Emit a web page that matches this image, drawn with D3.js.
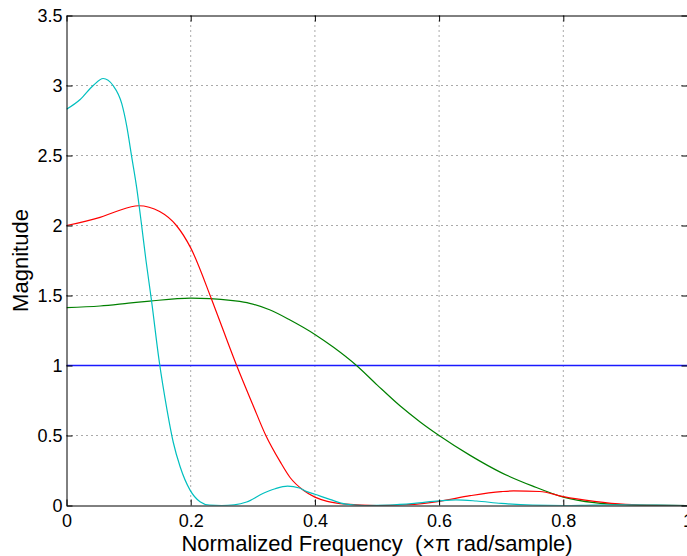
<!DOCTYPE html>
<html>
<head>
<meta charset="utf-8">
<script src="https://cdn.jsdelivr.net/npm/d3@7"></script>
<style>
  html, body { margin: 0; padding: 0; background: #fff; }
  svg { display: block; font-family: "Liberation Sans", Arial, sans-serif; }
</style>
</head>
<body>
<div id="chart"></div>
<script>
// Tick values on both axes
const xTicks = [0, 0.2, 0.4, 0.6, 0.8, 1];
const yTicks = [0, 0.5, 1, 1.5, 2, 2.5, 3, 3.5];

// Magnitude responses: [normalized frequency, magnitude]
const blueSeries = [[0, 1], [1, 1]];

const greenSeries = [
  [0, 1.414], [0.054, 1.425], [0.1, 1.445], [0.134, 1.46], [0.2, 1.481],
  [0.231, 1.478], [0.268, 1.463], [0.295, 1.444], [0.327, 1.398], [0.36, 1.325],
  [0.4, 1.222], [0.43, 1.13], [0.467, 1.0], [0.5, 0.862], [0.537, 0.712],
  [0.57, 0.595], [0.6, 0.5], [0.65, 0.358], [0.7, 0.235], [0.75, 0.14],
  [0.8, 0.06], [0.85, 0.02], [0.9, 0.005], [0.95, 0.001], [1, 0]
];

const redSeries = [
  [0, 2.0], [0.054, 2.058], [0.08, 2.1], [0.116, 2.141], [0.15, 2.1],
  [0.177, 2.0], [0.2, 1.84], [0.233, 1.48], [0.25, 1.28], [0.274, 1.0],
  [0.3, 0.72], [0.321, 0.5], [0.344, 0.313], [0.36, 0.2], [0.382, 0.107],
  [0.4, 0.06], [0.42, 0.03], [0.45, 0.01], [0.5, 0], [0.55, 0.006],
  [0.6, 0.03], [0.65, 0.07], [0.7, 0.099], [0.72, 0.104], [0.762, 0.1],
  [0.8, 0.063], [0.85, 0.03], [0.9, 0.008], [0.95, 0.001], [1, 0]
];

const cyanSeries = [
  [0, 2.83], [0.022, 2.9], [0.043, 3.0], [0.059, 3.05], [0.075, 3.0],
  [0.089, 2.87], [0.097, 2.71], [0.105, 2.49], [0.113, 2.27], [0.121, 2.0],
  [0.128, 1.75], [0.137, 1.46], [0.149, 1.04], [0.162, 0.68], [0.172, 0.45],
  [0.183, 0.277], [0.199, 0.11], [0.215, 0.027], [0.23, 0.003], [0.25, 0],
  [0.27, 0.005], [0.29, 0.025], [0.317, 0.087], [0.336, 0.12], [0.356, 0.139],
  [0.375, 0.125], [0.387, 0.099], [0.4, 0.08], [0.424, 0.044], [0.45, 0.01],
  [0.48, 0], [0.52, 0.003], [0.56, 0.015], [0.6, 0.033], [0.627, 0.04],
  [0.66, 0.032], [0.7, 0.015], [0.75, 0.003], [0.8, 0], [0.85, 0.003],
  [0.9, 0.004], [0.95, 0.002], [1, 0]
];

const series = [
  { data: blueSeries, color: "#1a1aff" },
  { data: greenSeries, color: "#008000" },
  { data: redSeries, color: "#ff0000" },
  { data: cyanSeries, color: "#00bfbf" }
];

// Dimensions and margins
const W = 687, H = 556;
const margin = { top: 15.5, right: -0.5, bottom: 50.5, left: 66.5 };
const width = W - margin.left - margin.right;
const height = H - margin.top - margin.bottom;

const svg = d3.select("#chart")
  .append("svg")
  .attr("width", W)
  .attr("height", H);

const g = svg.append("g")
  .attr("transform", `translate(${margin.left},${margin.top})`);

// Scales
const x = d3.scaleLinear().domain([0, 1]).range([0, width]);
const y = d3.scaleLinear().domain([0, 3.5]).range([height, 0]);

// Dotted grid
g.append("g")
  .selectAll("line")
  .data(xTicks.filter((d) => d > 0 && d < 1))
  .join("line")
  .attr("x1", (d) => x(d)).attr("x2", (d) => x(d))
  .attr("y1", 0).attr("y2", height)
  .attr("stroke", "#555")
  .attr("stroke-width", 1)
  .attr("stroke-dasharray", "1,4");

g.append("g")
  .selectAll("line")
  .data(yTicks.filter((d) => d > 0 && d < 3.5))
  .join("line")
  .attr("x1", 0).attr("x2", width)
  .attr("y1", (d) => y(d)).attr("y2", (d) => y(d))
  .attr("stroke", "#555")
  .attr("stroke-width", 1)
  .attr("stroke-dasharray", "1,4");

// Curves, clipped to the plot area
g.append("clipPath").attr("id", "plotclip")
  .append("rect").attr("x", 0).attr("y", 0).attr("width", width).attr("height", height);

const line = d3.line()
  .x((d) => x(d[0]))
  .y((d) => y(d[1]))
  .curve(d3.curveMonotoneX);

g.append("g")
  .attr("clip-path", "url(#plotclip)")
  .selectAll("path")
  .data(series)
  .join("path")
  .attr("d", (d) => line(d.data))
  .attr("fill", "none")
  .attr("stroke", (d) => d.color)
  .attr("stroke-width", (d, i) => (i === 0 ? 1.6 : 1.2));

// Axes with inward ticks on all four sides
const fmt = (d) => String(d);

g.append("g")
  .attr("transform", `translate(0,${height})`)
  .call(d3.axisBottom(x).tickValues(xTicks).tickSizeInner(-6).tickSizeOuter(0).tickPadding(9).tickFormat(fmt))
  .call((a) => a.selectAll("text").attr("font-size", 18).attr("fill", "#000"));

g.append("g")
  .call(d3.axisLeft(y).tickValues(yTicks).tickSizeInner(-6).tickSizeOuter(0).tickPadding(4).tickFormat(fmt))
  .call((a) => a.selectAll("text").attr("font-size", 18).attr("fill", "#000"));

g.append("g")
  .call(d3.axisTop(x).tickValues(xTicks).tickSizeInner(-6).tickSizeOuter(0).tickFormat(""));

g.append("g")
  .attr("transform", `translate(${width},0)`)
  .call(d3.axisRight(y).tickValues(yTicks).tickSizeInner(-6).tickSizeOuter(0).tickFormat(""));

g.selectAll(".domain").attr("stroke", "#000");
g.selectAll(".tick line").attr("stroke", "#000");

// Axis labels
svg.append("text")
  .attr("x", margin.left + width / 2)
  .attr("y", 551)
  .attr("text-anchor", "middle")
  .attr("font-size", 22)
  .style("white-space", "pre")
  .text("Normalized Frequency  (\u00d7\u03c0 rad/sample)");

svg.append("text")
  .attr("transform", `translate(28,${margin.top + height / 2}) rotate(-90)`)
  .attr("text-anchor", "middle")
  .attr("font-size", 22)
  .text("Magnitude");
</script>
</body>
</html>
